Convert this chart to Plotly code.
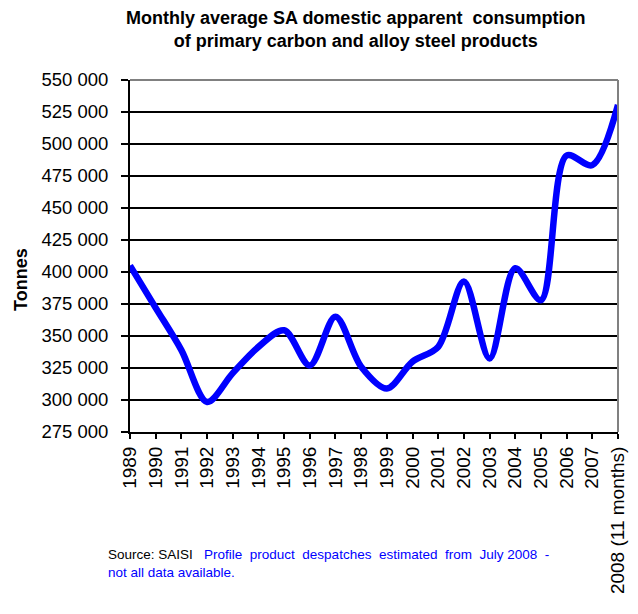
import plotly.graph_objects as go

years = ["1989", "1990", "1991", "1992", "1993", "1994", "1995", "1996", "1997", "1998",
         "1999", "2000", "2001", "2002", "2003", "2004", "2005", "2006", "2007",
         "2008 (11 months)"]
consumption = [405000, 372000, 339000, 298500, 321000, 341500, 354500, 327000, 365000, 326000,
               309000, 330000, 341500, 392500, 332500, 403000, 378000, 491000, 483500, 530500]
y_ticks = [275000, 300000, 325000, 350000, 375000, 400000, 425000, 450000, 475000, 500000,
           525000, 550000]

title_text = "Monthly average SA domestic apparent  consumption<br>of primary carbon and alloy steel products"
font_family = "Liberation Sans, Arial, sans-serif"

# the page adds an 8px body margin; compensate so the plot sits at x 130-618, y 80-432
OFF = 8
PW, PH = 488, 352  # plot area size in px

fig = go.Figure()
fig.add_trace(go.Scatter(
    x=list(range(len(years))), y=consumption, mode="lines",
    line=dict(color="#0000FF", width=6.5, shape="spline", smoothing=0.9),
    hoverinfo="skip", showlegend=False))

fig.update_layout(
    width=638 - OFF, height=614 - OFF,
    paper_bgcolor="white", plot_bgcolor="white",
    margin=dict(l=130 - OFF, r=20, t=80 - OFF, b=182, autoexpand=False),
    font=dict(family=font_family, color="black"),
    separators=". ",
    xaxis=dict(
        range=[0, len(years) - 1], tickmode="array",
        tickvals=list(range(len(years))), ticktext=years,
        tickangle=-90, tickfont=dict(size=19, color="black"),
        ticks="outside", ticklen=5, tickcolor="black", tickwidth=2,
        showline=True, linecolor="black", linewidth=2, automargin=False,
        showgrid=False, zeroline=False, fixedrange=True),
    yaxis=dict(
        range=[275000, 550000], tickmode="array", tickvals=y_ticks,
        tickformat=",d", tickfont=dict(size=18.5, color="black"),
        ticks="outside", ticklen=7, tickcolor="black", tickwidth=2,
        ticklabelstandoff=9,
        showline=True, linecolor="black", linewidth=2, automargin=False,
        showgrid=True, gridcolor="black", gridwidth=1.5,
        zeroline=False, fixedrange=True),
    shapes=[
        dict(type="line", xref="paper", yref="paper", x0=0, x1=1, y0=1, y1=1,
             line=dict(color="#808080", width=2)),
        dict(type="line", xref="paper", yref="paper", x0=1, x1=1, y0=0, y1=1,
             line=dict(color="#808080", width=2)),
    ],
    annotations=[
        dict(text="<b>" + title_text + "</b>", xref="paper", yref="paper",
             x=(355 - 130) / PW, y=1 + (80 - 6) / PH, xanchor="center", yanchor="top",
             align="center", showarrow=False, font=dict(size=18, color="black")),
        dict(text="<b>Tonnes</b>", xref="paper", yref="paper",
             x=(21 - 130) / PW, y=(432 - 280) / PH, textangle=-90,
             showarrow=False, xanchor="center", yanchor="middle",
             font=dict(size=18, color="black")),
        dict(text="Source: SAISI   <span style='color:#0000FF'>Profile  product  despatches  estimated  from  July 2008  -</span>"
                  "<br><span style='color:#0000FF'>not all data available.</span>",
             xref="paper", yref="paper", x=(106 - 130) / PW, y=(432 - 545) / PH,
             xanchor="left", yanchor="top", align="left", showarrow=False,
             font=dict(size=13.5, color="black")),
    ],
)

fig.write_html("out.html")
